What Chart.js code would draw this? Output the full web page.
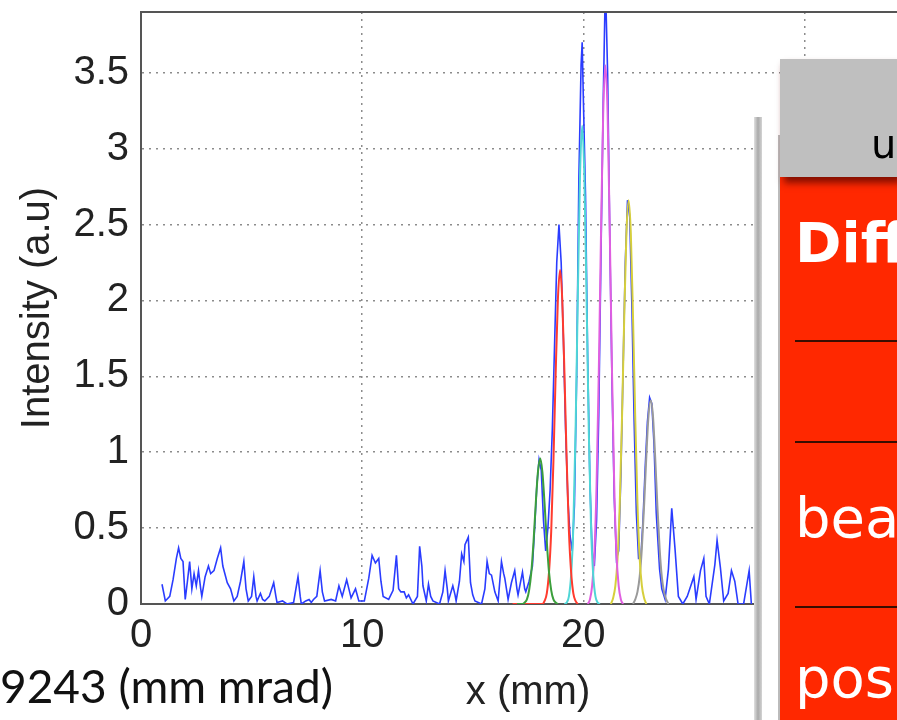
<!DOCTYPE html>
<html lang="en">
<head>
<meta charset="UTF-8">
<title>Intensity profile</title>
<style>
  html, body { margin: 0; padding: 0; overflow: hidden; background: #fff; }
  #wrap { position: relative; width: 897px; height: 720px; overflow: hidden; }
  #plot { position: absolute; left: 0; top: 0; }
  .abs { position: absolute; }
  #shade { left: 754px; top: 117px; width: 8px; height: 603px;
           background: linear-gradient(to right, #e0e0e0, #a9a9a9 50%, #d4d4d4); }
  #gap { left: 762px; top: 117px; width: 18px; height: 603px; background: #fff; }
  #red { left: 780px; top: 135px; width: 117px; height: 585px; background: #ff2800;
         box-shadow: -2px 0 0 #bbb; }
  #head { left: 780px; top: 59px; width: 117px; height: 118px; background: #bfbfbf;
          box-shadow: 4px 6px 7px rgba(110, 10, 0, 0.85); }
  .rule { left: 795px; width: 102px; height: 2px; background: #3a0d00; }
  .slide { font-family: "DejaVu Sans", Verdana, sans-serif; font-size: 56px; line-height: 56px;
           color: #fff; white-space: nowrap; }
  #emit { left: 0; top: 658px; font-family: Lato, "Open Sans", sans-serif; font-size: 46px;
          color: #111; white-space: nowrap; }
</style>
</head>
<body>
<div id="wrap">
  <canvas id="plot" width="920" height="720"></canvas>
  <div class="abs" id="shade"></div>
  <div class="abs" id="gap"></div>
  <div class="abs" id="red"></div>
  <div class="abs" id="head"></div>
  <div class="abs slide" style="left:871px; top:124px; font-size:40px; line-height:40px; color:#000;">u</div>
  <div class="abs slide" style="left:795px; top:215px; font-weight:bold;">Diff</div>
  <div class="abs rule" style="top:340px;"></div>
  <div class="abs rule" style="top:441px;"></div>
  <div class="abs slide" style="left:795px; top:490px;">bea</div>
  <div class="abs rule" style="top:606px;"></div>
  <div class="abs slide" style="left:795px; top:650px;">pos</div>
  <div class="abs" id="emit">9243 (mm mrad)</div>
</div>

<script src="https://cdn.jsdelivr.net/npm/chart.js"></script>
<script>
// measured profile (blue)
const blueX = [0.95, 1.1, 1.3, 1.45, 1.6, 1.7, 1.8, 1.9, 2.0, 2.1, 2.2, 2.3, 2.4, 2.5, 2.6, 2.7, 2.75, 2.9, 3.05, 3.15,
  3.3, 3.45, 3.6, 3.7, 3.9, 4.05, 4.2, 4.35, 4.5, 4.65, 4.75, 4.85, 5.0, 5.1, 5.2, 5.25, 5.4, 5.5, 5.6, 5.8,
  6.0, 6.1, 6.15, 6.4, 6.6, 6.9, 7.1, 7.2, 7.25, 7.45, 7.6, 7.7, 7.8, 7.95, 8.1, 8.2, 8.3, 8.6, 8.8, 8.95,
  9.1, 9.3, 9.4, 9.5, 9.7, 9.85, 10.1, 10.3, 10.45, 10.6, 10.75, 10.85, 10.95, 11.2, 11.4, 11.55, 11.65, 11.75, 11.9, 12.0,
  12.1, 12.3, 12.5, 12.6, 12.7, 12.75, 12.9, 13.0, 13.1, 13.2, 13.5, 13.65, 13.75, 13.85, 13.9, 14.1, 14.2, 14.25, 14.4, 14.5,
  14.6, 14.65, 14.8, 14.9, 15.0, 15.1, 15.4, 15.55, 15.65, 15.75, 15.85, 16.0, 16.15, 16.3, 16.4, 16.45, 16.6, 16.75, 16.9, 17.0,
  17.05, 17.25, 17.35, 17.4, 17.55, 17.7, 17.8, 17.9, 18.0, 18.1, 18.2, 18.3, 18.4, 18.5, 18.6, 18.7, 18.8, 18.9, 19.0, 19.1,
  19.2, 19.3, 19.4, 19.5, 19.6, 19.7, 19.8, 19.9, 19.95, 20.0, 20.1, 20.2, 20.3, 20.4, 20.5, 20.6, 20.7, 20.8, 20.9, 21.0,
  21.1, 21.2, 21.3, 21.4, 21.5, 21.6, 21.7, 21.8, 21.9, 22.0, 22.1, 22.2, 22.3, 22.4, 22.5, 22.6, 22.7, 22.8, 22.9, 23.0,
  23.1, 23.2, 23.3, 23.45, 23.55, 23.7, 23.85, 24.0, 24.15, 24.3, 24.5, 24.7, 25.0, 25.1, 25.3, 25.45, 25.55, 25.7, 25.95, 26.05,
  26.2, 26.35, 26.55, 26.7, 26.85, 27.0, 27.25, 27.5, 27.6];
const blueY = [0.13, 0.02, 0.05, 0.16, 0.3, 0.37, 0.3, 0.28, 0.03, 0.15, 0.28, 0.1, 0.2, 0.12, 0.22, 0.1, 0.05, 0.18, 0.25, 0.2,
  0.22, 0.3, 0.37, 0.25, 0.14, 0.1, 0.02, 0.05, 0.15, 0.28, 0.1, 0.02, 0.05, 0.18, 0.05, 0.02, 0.07, 0.03, 0.02, 0.05,
  0.14, 0.05, 0.01, 0.02, 0, 0.01, 0.18, 0.05, 0, 0.02, 0.03, 0.01, 0.03, 0.05, 0.22, 0.08, 0.02, 0.03, 0.02, 0.12,
  0.05, 0.16, 0.1, 0.04, 0.1, 0.02, 0.02, 0.17, 0.32, 0.27, 0.3, 0.15, 0.05, 0.03, 0.09, 0.32, 0.1, 0.08, 0.08, 0.04,
  0.06, 0, 0.05, 0.38, 0.25, 0.12, 0.02, 0.13, 0.05, 0.02, 0, 0.08, 0.22, 0.1, 0.02, 0.12, 0.06, 0.02, 0.15, 0.33,
  0.28, 0.39, 0.44, 0.14, 0.06, 0.02, 0, 0.1, 0.28, 0.2, 0.19, 0.08, 0.02, 0.28, 0.2, 0.17, 0.03, 0.14, 0.22, 0.1,
  0.06, 0.21, 0.1, 0.08, 0.15, 0.25, 0.5, 0.78, 0.95, 0.88, 0.55, 0.35, 0.5, 0.75, 1.15, 1.7, 2.25, 2.5, 2.25, 1.75,
  1.15, 0.7, 0.45, 0.35, 0.65, 1.5, 2.8, 3.55, 3.7, 3.35, 2.7, 1.6, 0.8, 0.35, 0.25, 0.55, 1.25, 2.3, 3.3, 4.1,
  3.5, 2.4, 1.45, 0.7, 0.3, 0.35, 0.85, 1.55, 2.25, 2.66, 2.55, 1.95, 1.2, 0.6, 0.3, 0.3, 0.55, 0.9, 1.2, 1.36,
  1.32, 1.05, 0.6, 0.23, 0.1, 0.03, 0.23, 0.63, 0.36, 0.05, 0, 0.05, 0.18, 0.03, 0.22, 0.3, 0.05, 0, 0.26, 0.42,
  0.24, 0.02, 0.07, 0.22, 0.15, 0, 0, 0.22, 0];

// fitted peaks
const greenX = [17.0, 17.25, 17.35, 17.45, 17.55, 17.65, 17.75, 17.85, 17.95, 18.05, 18.15, 18.25, 18.35, 18.45, 18.55, 18.65, 18.75, 18.85];
const greenY = [0, 0, 0.01, 0.03, 0.09, 0.21, 0.41, 0.66, 0.87, 0.96, 0.87, 0.66, 0.41, 0.21, 0.09, 0.03, 0.01, 0];
const redX = [16.8, 18.15, 18.25, 18.35, 18.45, 18.55, 18.65, 18.75, 18.85, 18.95, 19.05, 19.15, 19.25, 19.35, 19.45, 19.55, 19.65, 19.75];
const redY = [0, 0, 0.02, 0.07, 0.21, 0.48, 0.94, 1.51, 2.0, 2.2, 2.0, 1.51, 0.94, 0.48, 0.21, 0.07, 0.02, 0];
const cyanX = [19.15, 19.25, 19.35, 19.45, 19.55, 19.65, 19.75, 19.85, 19.95, 20.05, 20.15, 20.25, 20.35, 20.45, 20.55, 20.65, 20.75];
const cyanY = [0, 0.01, 0.05, 0.19, 0.51, 1.13, 2.0, 2.81, 3.15, 2.81, 2.0, 1.13, 0.51, 0.19, 0.05, 0.01, 0];
const magentaX = [20.2, 20.3, 20.4, 20.5, 20.6, 20.7, 20.8, 20.9, 21.0, 21.1, 21.2, 21.3, 21.4, 21.5, 21.6, 21.7, 21.8];
const magentaY = [0, 0.03, 0.12, 0.33, 0.78, 1.52, 2.43, 3.23, 3.55, 3.23, 2.43, 1.52, 0.78, 0.33, 0.12, 0.03, 0];
const yellowX = [21.25, 21.35, 21.45, 21.55, 21.65, 21.75, 21.85, 21.95, 22.05, 22.15, 22.25, 22.35, 22.45, 22.55, 22.65, 22.75, 22.85];
const yellowY = [0, 0.04, 0.12, 0.3, 0.66, 1.22, 1.88, 2.44, 2.66, 2.44, 1.88, 1.22, 0.66, 0.3, 0.12, 0.04, 0];
const grayX = [22.25, 22.35, 22.45, 22.55, 22.65, 22.75, 22.85, 22.95, 23.05, 23.15, 23.25, 23.35, 23.45, 23.55, 23.65, 23.75, 23.85];
const grayY = [0, 0.03, 0.08, 0.18, 0.37, 0.65, 0.97, 1.24, 1.34, 1.24, 0.97, 0.65, 0.37, 0.18, 0.08, 0.03, 0];

const xTicks = [0, 10, 20, 30];
const yTicks = [0, 0.5, 1, 1.5, 2, 2.5, 3, 3.5];

function pts(xs, ys) {
    return xs.map((x, i) => ({ x: x, y: ys[i] }));
}

function fit(xs, ys, color) {
    return {
        data: pts(xs, ys),
        borderColor: color,
        borderWidth: 2,
        pointRadius: 0,
        cubicInterpolationMode: 'monotone',
        order: 1
    };
}

// top edge of the axes box
const frame = {
    id: 'frame',
    afterDraw(chart) {
        const { ctx, chartArea } = chart;
        ctx.save();
        ctx.strokeStyle = '#555';
        ctx.lineWidth = 2;
        ctx.beginPath();
        ctx.moveTo(chartArea.left, chartArea.top);
        ctx.lineTo(chartArea.right, chartArea.top);
        ctx.stroke();
        ctx.restore();
    }
};

const tickFont = { family: '"Liberation Sans", Arial, sans-serif', size: 40 };

new Chart(document.getElementById('plot'), {
    type: 'line',
    data: {
        datasets: [
            {
                data: pts(blueX, blueY),
                borderColor: '#2a3cff',
                borderWidth: 1.6,
                pointRadius: 0,
                order: 2
            },
            fit(greenX, greenY, '#3c9f3c'),
            fit(redX, redY, '#ff3b2e'),
            fit(cyanX, cyanY, '#4fd6d6'),
            fit(magentaX, magentaY, '#e05fe0'),
            fit(yellowX, yellowY, '#d6cf3c'),
            fit(grayX, grayY, '#9a9a9a')
        ]
    },
    options: {
        responsive: false,
        animation: false,
        layout: { padding: { left: 0, top: 12, right: 5, bottom: 0 } },
        plugins: { legend: { display: false }, tooltip: { enabled: false } },
        scales: {
            x: {
                type: 'linear',
                min: 0,
                max: 35,
                afterBuildTicks: s => { s.ticks = xTicks.map(v => ({ value: v })); },
                afterFit: s => { s.height = 116; s.paddingLeft = 0; s.paddingRight = 0; },
                ticks: { font: tickFont, color: '#222', padding: 8, maxRotation: 0 },
                grid: { color: '#8c8c8c', lineWidth: 1.5, drawTicks: false },
                border: { color: '#555', width: 2, dash: [2, 5] },
                title: { display: true, text: 'x (mm)', font: tickFont, color: '#222', padding: { top: 0, bottom: 3 } }
            },
            y: {
                min: 0,
                max: 3.9,
                afterBuildTicks: s => { s.ticks = yTicks.map(v => ({ value: v })); },
                afterFit: s => { s.width = 141; s.paddingTop = 0; s.paddingBottom = 0; },
                ticks: { font: tickFont, color: '#222', padding: 12, callback: v => String(v) },
                grid: { color: '#8c8c8c', lineWidth: 1.5, drawTicks: false },
                border: { color: '#555', width: 2, dash: [2, 5] },
                title: { display: true, text: 'Intensity (a.u)', font: tickFont, color: '#222', padding: { top: 14, bottom: 0 } }
            }
        }
    },
    plugins: [frame]
});
</script>
</body>
</html>
